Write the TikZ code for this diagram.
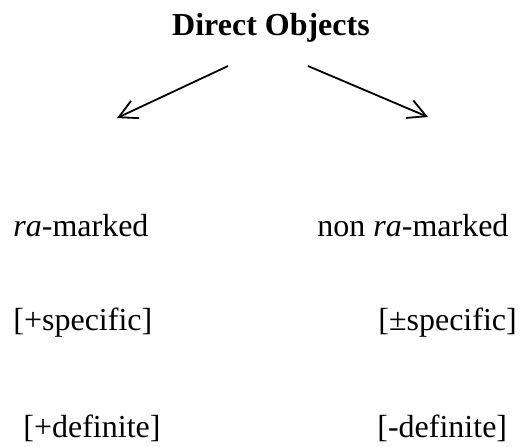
\documentclass[tikz,border=0pt]{standalone}
\usepackage{fontspec}
\setmainfont{Liberation Serif}
\usetikzlibrary{arrows.meta,positioning}

\begin{document}
\begin{tikzpicture}[
     x=0.5pt, y=-0.5pt,
     % define styles
     heading/.style={
         font=\fontsize{16}{19}\selectfont\bfseries,
         inner sep=0pt,
         anchor=base
     },
     feature/.style={
         font=\fontsize{16}{19}\selectfont,
         inner sep=0pt,
         anchor=base west
     },
     branch/.style={
         line width=0.9pt,
         -{Straight Barb[length=9pt,width=9.5pt,line width=0.9pt]}
     }
]
\useasboundingbox (0,0) rectangle (523,446);
% heading
\node[heading] (head) at (271,35) {Direct Objects};
% end points of the two branches
\coordinate (left-top) at (228,66);
\coordinate (left-end) at (117,118);
\coordinate (right-top) at (308,66);
\coordinate (right-end) at (428,117);
% left column
\node[feature] (ra) at (13,236) {\textit{ra}-marked};
\node[feature] (ra-spec) at (13,330) {[+specific]};
\node[feature] (ra-def) at (23,437) {[+definite]};
% right column
\node[feature] (nonra) at (317,236) {non \textit{ra}-marked};
\node[feature] (nonra-spec) at (378,330) {[±specific]};
\node[feature] (nonra-def) at (377,437) {[-definite]};
\draw[branch] (left-top) -- (left-end);
\draw[branch] (right-top) -- (right-end);
\end{tikzpicture}
\end{document}
